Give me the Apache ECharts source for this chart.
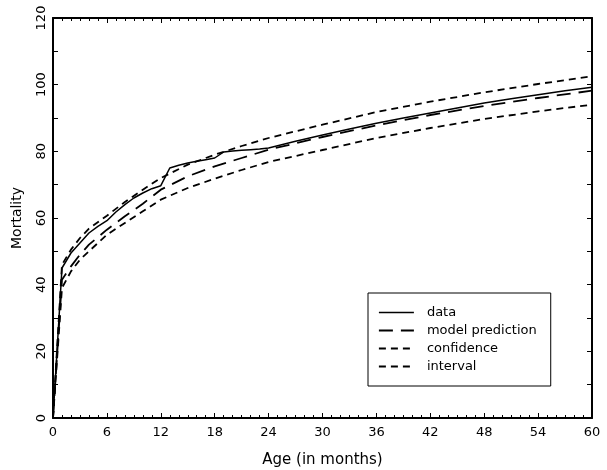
<!DOCTYPE html>
<html>
<head>
<meta charset="utf-8">
<script src="https://cdn.jsdelivr.net/npm/echarts@6/dist/echarts.min.js"></script>
<style>html,body{margin:0;padding:0;background:#fff;}#c{width:607px;height:470px;}</style>
</head>
<body>
<div id="c"></div>
<script>
// Observed data (months, mortality)
const dataMonths = [0,1,2,3,4,5,6,7,8,9,10,11,12,13,14,15,16,17,18,19,20,21,22,23,24,27,30,33,36,39,42,45,48,51,54,57,60];
const dataValues = [0,45,49.5,52.5,55.5,57.5,59.2,61.8,64,66,67.5,68.8,69.7,75,75.8,76.5,77,77.5,78,79.8,80.1,80.3,80.5,80.7,81,83,84.9,86.7,88.4,90,91.5,93,94.5,95.8,97,98.2,99.2];
// Fitted curves
const fitMonths   = [0,1,2,3,4,6,8,10,12,15,18,21,24,30,36,42,48,54,60];
const modelValues = [0,41.5,45.5,49,52,56.5,60.5,64.3,68.5,72.5,75.5,78,80.5,84.3,87.8,90.9,93.6,96,98.2];
const upperValues = [0,46,50.5,54,56.8,60.7,64.8,68.5,72,76,79,81.6,84,88,91.8,94.9,97.7,100.2,102.5];
const lowerValues = [0,39,44,47.5,50,55,58.5,62,65.5,69,71.8,74.4,76.8,80.4,84,87,89.7,92,94];
const xTicks = {min:0, max:60, interval:6};
const yTicks = {min:0, max:120, interval:20};

function pairs(xs, ys){ return xs.map((x,i)=>[x, ys[i]]); }

const font = 'DejaVu Sans';
const longDash = [14,8];
const shortDash = [7,5];
const axisCommon = {
  axisLine:{show:true, onZero:false, lineStyle:{color:'#000', width:2}},
  splitLine:{show:false},
  axisTick:{show:true, inside:true, length:5, lineStyle:{color:'#000', width:1}},
};
const chart = echarts.init(document.getElementById('c'));
chart.setOption({
  animation:false,
  backgroundColor:'#fff',
  grid:{left:53, right:15, top:18, bottom:52, containLabel:false, outerBoundsMode:'none'},
  xAxis:[
    Object.assign({}, axisCommon, {
      type:'value', position:'bottom', min:xTicks.min, max:xTicks.max, interval:xTicks.interval,
      minorTick:{show:true, splitNumber:6, length:3, lineStyle:{color:'#000', width:1}},
      axisLabel:{color:'#000', fontSize:13, fontFamily:font, margin:8},
      name:'Age (in months)', nameLocation:'middle', nameGap:35,
      nameTextStyle:{color:'#000', fontSize:15, fontFamily:font}
    }),
    Object.assign({}, axisCommon, {
      type:'value', position:'top', min:xTicks.min, max:xTicks.max, interval:xTicks.interval,
      minorTick:{show:true, splitNumber:6, length:3, lineStyle:{color:'#000', width:1}},
      axisLabel:{show:false}
    })
  ],
  yAxis:[
    Object.assign({}, axisCommon, {
      type:'value', position:'left', min:yTicks.min, max:yTicks.max, interval:yTicks.interval,
      minorTick:{show:true, splitNumber:2, length:5, lineStyle:{color:'#000', width:1}},
      axisLabel:{color:'#000', fontSize:13, fontFamily:font, rotate:90, margin:5},
      name:'Mortality', nameLocation:'middle', nameGap:29, nameRotate:90,
      nameTextStyle:{color:'#000', fontSize:14, fontFamily:font}
    }),
    Object.assign({}, axisCommon, {
      type:'value', position:'right', min:yTicks.min, max:yTicks.max, interval:yTicks.interval,
      minorTick:{show:true, splitNumber:2, length:5, lineStyle:{color:'#000', width:1}},
      axisLabel:{show:false}
    })
  ],
  legend:{
    orient:'vertical', left:368, top:293,
    backgroundColor:'#fff', borderColor:'#000', borderWidth:1, borderRadius:0,
    padding:[13,14,13,10], itemGap:5, itemWidth:35, itemHeight:14,
    itemStyle:{opacity:0},
    textStyle:{color:'#000', fontSize:13, fontFamily:font, padding:[0,0,0,8]},
    data:[
      {name:'data', lineStyle:{type:'solid', width:1.6, color:'#000'}},
      {name:'model prediction', lineStyle:{type:longDash, width:1.8, color:'#000'}},
      {name:'confidence', lineStyle:{type:shortDash, width:1.8, color:'#000'}},
      {name:'interval', lineStyle:{type:shortDash, width:1.8, color:'#000'}}
    ]
  },
  series:[
    {name:'data', type:'line', data:pairs(dataMonths,dataValues), symbol:'none',
     lineStyle:{color:'#000', width:1.5, type:'solid'}, itemStyle:{color:'#000'}, z:5},
    {name:'model prediction', type:'line', data:pairs(fitMonths,modelValues), symbol:'none',
     lineStyle:{color:'#000', width:1.8, type:longDash}, itemStyle:{color:'#000'}},
    {name:'confidence', type:'line', data:pairs(fitMonths,upperValues), symbol:'none',
     lineStyle:{color:'#000', width:1.8, type:shortDash}, itemStyle:{color:'#000'}},
    {name:'interval', type:'line', data:pairs(fitMonths,lowerValues), symbol:'none',
     lineStyle:{color:'#000', width:1.8, type:shortDash}, itemStyle:{color:'#000'}}
  ]
});
</script>
</body>
</html>
